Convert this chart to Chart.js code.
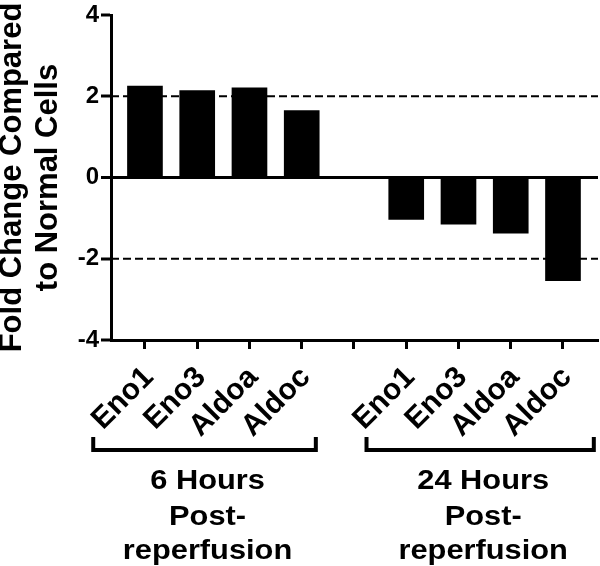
<!DOCTYPE html>
<html>
<head>
<meta charset="utf-8">
<script src="https://cdn.jsdelivr.net/npm/chart.js@4"></script>
<style>
  html, body { margin: 0; padding: 0; background: #fff; }
  #wrap { position: relative; width: 600px; height: 566px; }
</style>
</head>
<body>
<div id="wrap"><canvas id="c"></canvas></div>
<script>
// values
const genes = ['Eno1', 'Eno3', 'Aldoa', 'Aldoc'];
const hours6 = [2.25, 2.14, 2.21, 1.65];
const hours24 = [-1.03, -1.15, -1.37, -2.54];
const slotLabels = [...genes, '', ...genes]; // empty slot between groups
const yTicks = [-4, -2, 0, 2, 4];
const refLines = [2, -2];
const groups = [
  { lines: ['6 Hours', 'Post-', 'reperfusion'], from: -0.99, to: 3.27 },
  { lines: ['24 Hours', 'Post-', 'reperfusion'], from: 4.24, to: 8.59 },
];
const yTitle = ['Fold Change Compared', 'to Normal Cells'];

const X_MIN = -0.65, X_MAX = 8.67;
const FONT = '"Liberation Sans", Arial, Helvetica, sans-serif';

const barData = [
  ...hours6.map((v, i) => ({ x: i, y: v })),
  ...hours24.map((v, i) => ({ x: i + 5, y: v })),
];

const refSets = refLines.map((v) => ({
  type: 'line',
  data: [{ x: X_MIN, y: v }, { x: X_MAX, y: v }],
  borderColor: '#000',
  borderWidth: 2,
  borderDash: [8, 4],
  pointRadius: 0,
  fill: false,
  order: 0,
}));

// brackets + group names under the gene labels
const groupPlugin = {
  id: 'groupLabels',
  afterDraw(chart) {
    const { ctx, chartArea, scales } = chart;
    const b = chartArea.bottom;
    ctx.save();
    ctx.strokeStyle = '#000';
    ctx.lineWidth = 4;
    ctx.fillStyle = '#000';
    ctx.font = `bold 28px ${FONT}`;
    ctx.textAlign = 'center';
    ctx.textBaseline = 'alphabetic';
    groups.forEach((g) => {
      const l = scales.x.getPixelForValue(g.from);
      const r = scales.x.getPixelForValue(g.to);
      ctx.beginPath();
      ctx.moveTo(l, b + 97);
      ctx.lineTo(l, b + 110);
      ctx.lineTo(r, b + 110);
      ctx.lineTo(r, b + 97);
      ctx.stroke();
      const cx = (l + r) / 2 + 3;
      const ys = [b + 149, b + 185, b + 219];
      g.lines.forEach((t, i) => {
        ctx.save();
        ctx.translate(cx, ys[i]);
        ctx.scale(1.1, 1);
        ctx.fillText(t, 0, 0);
        ctx.restore();
      });
    });
    ctx.restore();
  },
};

new Chart(document.getElementById('c'), {
  type: 'bar',
  data: {
    datasets: [
      {
        data: barData,
        backgroundColor: '#000',
        borderWidth: 0,
        barThickness: 35,
        order: 1,
      },
      ...refSets,
    ],
  },
  options: {
    responsive: true,
    maintainAspectRatio: false,
    animation: false,
    layout: { padding: { top: 15, right: 2, left: 0, bottom: 0 } },
    plugins: { legend: { display: false }, tooltip: { enabled: false } },
    scales: {
      x: {
        type: 'linear',
        min: X_MIN,
        max: X_MAX,
        offset: false,
        afterBuildTicks: (s) => { s.ticks = slotLabels.map((_, i) => ({ value: i })); },
        afterFit: (s) => { s.height = 226; s.paddingLeft = 0; s.paddingRight = 0; },
        border: { display: true, color: '#000', width: 3 },
        grid: { offset: false, drawOnChartArea: false, drawTicks: true, tickLength: 9, tickWidth: 3, tickColor: '#000', color: '#000' },
        ticks: {
          autoSkip: false,
          maxRotation: 45,
          minRotation: 45,
          padding: 11,
          labelOffset: 4,
          color: '#000',
          font: { family: FONT, size: 30, weight: 'bold' },
          callback: (v) => slotLabels[v] ?? '',
        },
      },
      y: {
        min: -4,
        max: 4,
        afterBuildTicks: (s) => { s.ticks = yTicks.map((v) => ({ value: v })); },
        afterFit: (s) => { s.width = 111; s.paddingTop = 0; s.paddingBottom = 0; },
        border: { display: true, color: '#000', width: 3 },
        grid: {
          drawOnChartArea: true,
          drawTicks: true,
          tickLength: 10,
          tickWidth: 3,
          tickColor: '#000',
          color: (c) => (c.tick && c.tick.value === 0 ? '#000' : 'rgba(0,0,0,0)'),
          lineWidth: (c) => (c.tick && c.tick.value === 0 ? 3 : 0),
        },
        ticks: {
          padding: 2,
          color: '#000',
          font: { family: FONT, size: 24, weight: 'bold' },
        },
        title: {
          display: true,
          text: yTitle,
          color: '#000',
          font: { family: FONT, size: 31, weight: 'bold', lineHeight: 1.15 },
          padding: { top: -5, bottom: 0 },
        },
      },
    },
  },
  plugins: [groupPlugin],
});
</script>
</body>
</html>
